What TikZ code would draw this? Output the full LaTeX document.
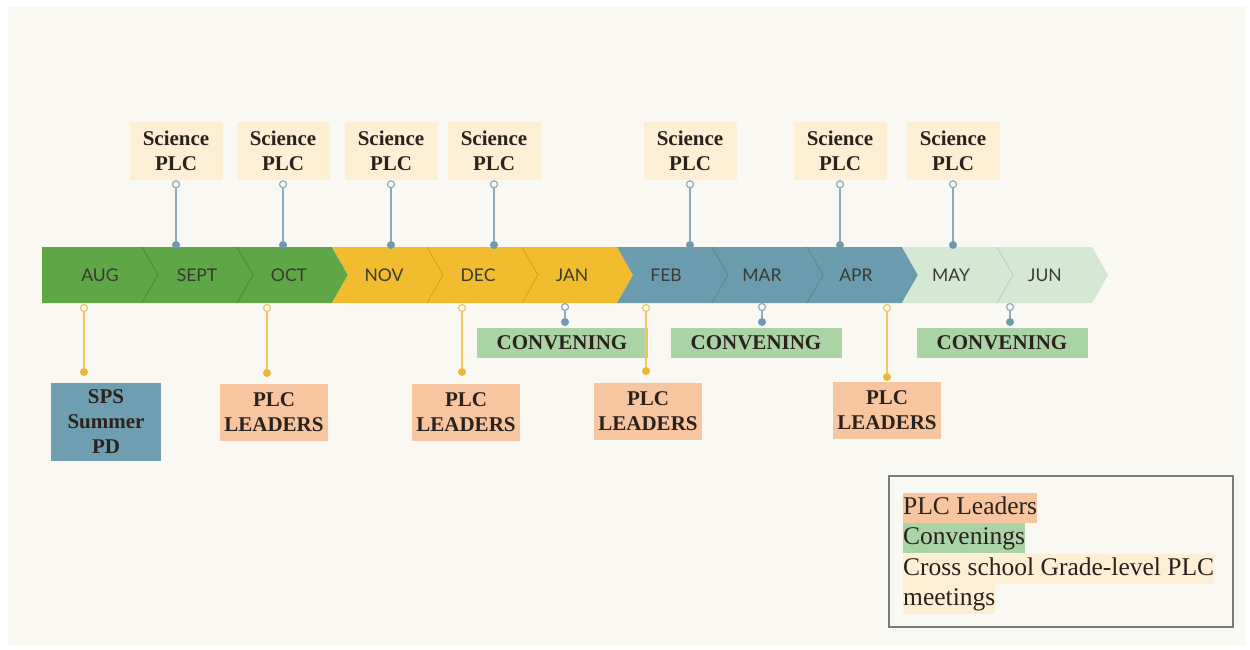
\documentclass[tikz,border=0pt]{standalone}
\usepackage{fontspec}
\setmainfont{Liberation Serif}
\newfontfamily\monthfont{Lato}
\usetikzlibrary{positioning}

\definecolor{bg}{HTML}{F9F8F3}
\definecolor{bandgreen}{HTML}{5EA646}
\definecolor{bandyellow}{HTML}{F1BD2F}
\definecolor{bandblue}{HTML}{6B9CAD}
\definecolor{bandlight}{HTML}{D5E8D3}
\definecolor{scicol}{HTML}{FCEFD4}
\definecolor{leadcol}{HTML}{F7C6A0}
\definecolor{convcol}{HTML}{AAD3A6}
\definecolor{spscol}{HTML}{6E9EAF}
\definecolor{stemblue}{HTML}{8DABBC}
\definecolor{dotblue}{HTML}{6F9AAE}
\definecolor{stemyellow}{HTML}{EEC85E}
\definecolor{dotyellow}{HTML}{E9B834}
\definecolor{darktext}{HTML}{2A221C}
\definecolor{monthtext}{HTML}{3A3A32}
\definecolor{framegray}{HTML}{7A7A76}

\begin{document}
\begin{tikzpicture}[x=1pt, y=-1pt,
    month/.style={font=\monthfont\fontsize{17.5}{20}\selectfont, text=monthtext},
    sci/.style={fill=scicol, minimum width=93, minimum height=58, inner sep=0, align=center,
        font=\bfseries\fontsize{21}{25}\selectfont, text=darktext},
    lead/.style={fill=leadcol, minimum width=108, minimum height=57, inner sep=0, align=center,
        font=\bfseries\fontsize{21}{25}\selectfont, text=darktext},
    conv/.style={fill=convcol, minimum width=171, minimum height=30, inner sep=0,
        font=\bfseries\fontsize{21}{25}\selectfont, text=darktext},
    sps/.style={fill=spscol, minimum width=110, minimum height=78, inner sep=0, align=center,
        font=\bfseries\fontsize{21}{25}\selectfont, text=darktext},
    ringb/.style={circle, draw=stemblue, fill=bg, line width=1.2, inner sep=0, minimum size=7},
    dotb/.style={circle, fill=dotblue, inner sep=0, minimum size=8},
    ringy/.style={circle, draw=stemyellow, fill=bg, line width=1.2, inner sep=0, minimum size=7},
    doty/.style={circle, fill=dotyellow, inner sep=0, minimum size=8},
    stemb/.style={draw=stemblue, line width=1.5},
    stemy/.style={draw=stemyellow, line width=1.5},
    sep/.style={line width=0.8},
    hl/.style={inner xsep=0, inner ysep=2.5, text height=19, text depth=6,
        font=\fontsize{25.5}{30}\selectfont, text=darktext}
    ]

    % page
    \fill[white] (0,0) rectangle (1250,650);
    \fill[bg] (8,7) rectangle (1246,646);

    % month band
    \fill[bandgreen] (42,247) -- (332,247) -- (348,275) -- (332,303) -- (42,303) -- cycle;
    \fill[bandyellow] (332,247) -- (617,247) -- (633,275) -- (617,303) -- (332,303) -- (348,275) -- cycle;
    \fill[bandblue] (617,247) -- (902,247) -- (918,275) -- (902,303) -- (617,303) -- (633,275) -- cycle;
    \fill[bandlight] (902,247) -- (1092,247) -- (1108,275) -- (1092,303) -- (902,303) -- (918,275) -- cycle;
    \draw[sep, bandgreen!82!black] (142,247) -- (158,275) -- (142,303);
    \draw[sep, bandgreen!82!black] (237,247) -- (253,275) -- (237,303);
    \draw[sep, bandyellow!85!black] (427,247) -- (443,275) -- (427,303);
    \draw[sep, bandyellow!85!black] (522,247) -- (538,275) -- (522,303);
    \draw[sep, bandblue!85!black] (712,247) -- (728,275) -- (712,303);
    \draw[sep, bandblue!85!black] (807,247) -- (823,275) -- (807,303);
    \draw[sep, bandlight!88!black] (997,247) -- (1013,275) -- (997,303);

    \node[month] (aug) at (100,275) {AUG};
    \node[month] (sept) at (197,275) {SEPT};
    \node[month] (oct) at (289,275) {OCT};
    \node[month] (nov) at (384,275) {NOV};
    \node[month] (dec) at (478,275) {DEC};
    \node[month] (jan) at (572,275) {JAN};
    \node[month] (feb) at (666,275) {FEB};
    \node[month] (mar) at (762,275) {MAR};
    \node[month] (apr) at (856,275) {APR};
    \node[month] (may) at (951,275) {MAY};
    \node[month] (jun) at (1045,275) {JUN};

    % science PLC
    \node[sci] (sci1) at (176,151) {Science\\PLC};
    \node[sci] (sci2) at (283,151) {Science\\PLC};
    \node[sci] (sci3) at (391,151) {Science\\PLC};
    \node[sci] (sci4) at (494,151) {Science\\PLC};
    \node[sci] (sci5) at (690,151) {Science\\PLC};
    \node[sci] (sci6) at (840,151) {Science\\PLC};
    \node[sci] (sci7) at (953,151) {Science\\PLC};

    \node[ringb, below=0pt of sci1] (rs1) {};
    \node[ringb, below=0pt of sci2] (rs2) {};
    \node[ringb, below=0pt of sci3] (rs3) {};
    \node[ringb, below=0pt of sci4] (rs4) {};
    \node[ringb, below=0pt of sci5] (rs5) {};
    \node[ringb, below=0pt of sci6] (rs6) {};
    \node[ringb, below=0pt of sci7] (rs7) {};

    \node[dotb] (ds1) at (176,245) {};
    \node[dotb] (ds2) at (283,245) {};
    \node[dotb] (ds3) at (391,245) {};
    \node[dotb] (ds4) at (494,245) {};
    \node[dotb] (ds5) at (690,245) {};
    \node[dotb] (ds6) at (840,245) {};
    \node[dotb] (ds7) at (953,245) {};

    \path[stemb] (rs1) edge (ds1);
    \path[stemb] (rs2) edge (ds2);
    \path[stemb] (rs3) edge (ds3);
    \path[stemb] (rs4) edge (ds4);
    \path[stemb] (rs5) edge (ds5);
    \path[stemb] (rs6) edge (ds6);
    \path[stemb] (rs7) edge (ds7);

    % convenings
    \node[conv] (cv1) at (562,343) {CONVENING};
    \node[conv] (cv2) at (756,343) {CONVENING};
    \node[conv] (cv3) at (1002,343) {CONVENING};

    \node[ringb] (rc1) at (565,307) {};
    \node[ringb] (rc2) at (762,307) {};
    \node[ringb] (rc3) at (1010,307) {};
    \node[dotb] (dc1) at (565,322) {};
    \node[dotb] (dc2) at (762,322) {};
    \node[dotb] (dc3) at (1010,322) {};

    \path[stemb] (rc1) edge (dc1);
    \path[stemb] (rc2) edge (dc2);
    \path[stemb] (rc3) edge (dc3);

    % leaders and summer PD
    \node[sps] (sps) at (106,422) {SPS\\Summer\\PD};
    \node[lead] (ld1) at (274,412) {PLC\\LEADERS};
    \node[lead] (ld2) at (466,412) {PLC\\LEADERS};
    \node[lead] (ld3) at (648,411) {PLC\\LEADERS};
    \node[lead] (ld4) at (887,410) {PLC\\LEADERS};

    \node[ringy] (ry0) at (84,308) {};
    \node[ringy] (ry1) at (267,308) {};
    \node[ringy] (ry2) at (462,308) {};
    \node[ringy] (ry3) at (646,308) {};
    \node[ringy] (ry4) at (887,308) {};
    \node[doty] (dy0) at (84,372) {};
    \node[doty] (dy1) at (267,373) {};
    \node[doty] (dy2) at (462,372) {};
    \node[doty] (dy3) at (646,371) {};
    \node[doty] (dy4) at (887,377) {};

    \path[stemy] (ry0) edge (dy0);
    \path[stemy] (ry1) edge (dy1);
    \path[stemy] (ry2) edge (dy2);
    \path[stemy] (ry3) edge (dy3);
    \path[stemy] (ry4) edge (dy4);

    % legend
    \node[draw=framegray, line width=1.5, minimum width=344, minimum height=151] (legend) at (1061,551.5) {};
    \node[hl, fill=leadcol, anchor=west] (leg1) at (903,508) {PLC Leaders};
    \node[hl, fill=convcol, below=0pt of leg1.south west, anchor=north west] (leg2) {Convenings};
    \node[hl, fill=scicol, below=0pt of leg2.south west, anchor=north west] (leg3) {Cross school Grade-level PLC};
    \node[hl, fill=scicol, below=0pt of leg3.south west, anchor=north west] (leg4) {meetings};

\end{tikzpicture}
\end{document}
